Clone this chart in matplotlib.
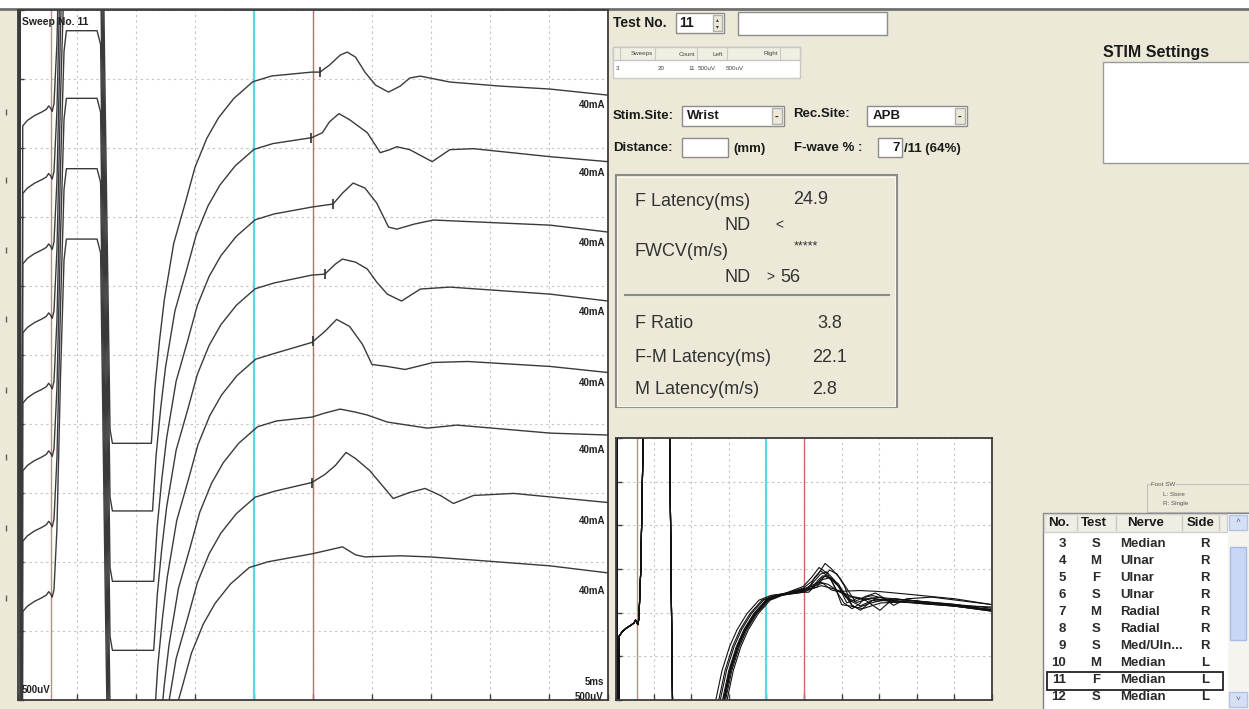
import numpy as np
import matplotlib.pyplot as plt
from matplotlib.patches import Rectangle

plt.rcParams['font.family'] = ['Liberation Sans', 'DejaVu Sans']

W, H = 1249, 709
BEIGE = '#ece9d8'

# stimulus artifact + M response + recovery, time in ms, amplitude in uV (shared by every sweep)
ART_T = [0.0, 0.12, 0.25, 0.4, 0.8, 1.4, 2.0, 2.4, 2.6, 2.75, 2.9, 3.05, 3.3, 3.6, 3.9, 4.1,
         6.7, 7.0, 7.4, 7.8, 8.0, 11.3, 11.6, 12.0, 12.4, 13.2, 14.2, 15.0, 16.0, 17.0,
         18.3, 19.9, 21.5]
ART_A = [0, 6000, -6000, -100, -60, -25, 0, 20, 45, 30, 5, 60, 500, 1600, 2450, 2600,
         2600, 2500, 0, -2300, -2400, -2400, -2000, -1650, -1360, -950, -650, -400, -190, -40,
         100, 220, 262]

# raster position of each sweep (uV) and small per-sweep recovery delay (ms)
TRACE_BASE = [4260, 3770, 3260, 2760, 2250, 1760, 1250, 740]
RECOVERY_SHIFT = [0.0, 0.1, 0.2, 0.2, 0.25, 0.4, 0.2, -0.3]

# late segment of each sweep (F-wave region)
F_T = [
    [24.9, 25.6, 26.4, 27.3, 27.9, 28.6, 29.4, 30.3, 31.4, 32.4, 33.2, 34.1, 34.9, 36.6, 40.8, 45.1, 50.0],
    [24.9, 25.8, 26.4, 27.2, 28.1, 29.6, 30.7, 31.5, 32.1, 33.2, 35.1, 36.6, 38.6, 45.1, 50.0],
    [24.9, 26.7, 27.5, 28.4, 29.4, 30.4, 31.4, 32.1, 33.6, 35.2, 39.2, 45.1, 50.0],
    [24.9, 26.0, 26.9, 27.5, 28.6, 29.6, 30.4, 31.3, 32.5, 34.1, 36.6, 45.1, 50.0],
    [24.9, 26.0, 27.0, 28.1, 29.2, 30.0, 31.3, 32.8, 35.2, 38.1, 45.1, 50.0],
    [24.9, 26.0, 27.3, 28.6, 29.6, 31.3, 34.7, 37.2, 45.1, 50.0],
    [24.9, 26.0, 26.9, 27.8, 28.6, 29.8, 31.8, 33.2, 34.5, 35.8, 36.9, 38.6, 42.0, 50.0],
    [24.9, 26.4, 27.5, 28.6, 29.4, 32.4, 34.9, 38.3, 45.1, 50.0],
]
F_A = [
    [290, 290, 341, 413, 435, 399, 290, 196, 145, 189, 247, 261, 247, 218, 189, 167, 123],
    [305, 341, 420, 479, 435, 341, 196, 218, 239, 218, 131, 218, 225, 167, 131],
    [312, 334, 413, 486, 450, 341, 167, 152, 189, 218, 203, 181, 131],
    [319, 326, 399, 435, 413, 363, 268, 181, 131, 218, 232, 181, 131],
    [341, 420, 508, 457, 326, 181, 167, 145, 196, 203, 167, 123],
    [290, 319, 348, 326, 305, 254, 210, 232, 174, 160],
    [326, 384, 450, 544, 500, 413, 210, 254, 283, 232, 174, 232, 247, 181],
    [319, 348, 370, 312, 297, 305, 297, 276, 232, 181],
]
F_MARK = [25.6, 24.8, 26.7, 26.0, 25.0, np.nan, 24.9, np.nan]

# three more sweeps that only appear in the superimposed view
EXTRA_SHIFT = [-0.9, -0.5, 0.6]
EXTRA_T = [
    [24.9, 26.0, 27.2, 28.0, 29.0, 30.5, 32.0, 34.0, 36.0, 40.0, 45.0, 50.0],
    [24.9, 26.2, 27.4, 28.5, 29.8, 31.0, 32.5, 34.5, 37.0, 42.0, 50.0],
    [24.9, 26.0, 27.0, 28.2, 29.5, 31.0, 33.0, 35.0, 38.0, 44.0, 50.0],
]
EXTRA_A = [
    [300, 360, 450, 470, 400, 250, 200, 240, 215, 200, 170, 135],
    [295, 330, 400, 420, 330, 220, 170, 230, 210, 190, 140],
    [310, 350, 380, 360, 300, 250, 230, 245, 225, 190, 150],
]

STIM_LABEL = '40mA'
M_LAT, CYAN_CUR, F_LAT = 2.8, 20.0, 25.0

# review list
ROW_NO = ['3', '4', '5', '6', '7', '8', '9', '10', '11', '12']
ROW_TEST = ['S', 'M', 'F', 'S', 'M', 'S', 'S', 'M', 'F', 'S']
ROW_NERVE = ['Median', 'Ulnar', 'Ulnar', 'Ulnar', 'Radial', 'Radial', 'Med/Uln...', 'Median', 'Median', 'Median']
ROW_SIDE = ['R', 'R', 'R', 'R', 'R', 'R', 'R', 'L', 'L', 'L']


def sweep(shift, ft, fa):
    t = np.array(ART_T, dtype=float)
    t[t > 11.0] += shift
    return np.concatenate([t, ft]), np.concatenate([ART_A, fa])


fig = plt.figure(figsize=(W / 100, H / 100), dpi=100, facecolor=BEIGE)


def px_axes(l, t, r, b, **kw):
    return fig.add_axes([l / W, 1 - b / H, (r - l) / W, (b - t) / H], **kw)


ui = px_axes(0, 0, W, H)
ui.set_xlim(0, W)
ui.set_ylim(H, 0)
ui.axis('off')


def box(x0, y0, x1, y1, fc='white', ec='#8c8c8c', lw=1.0, ax=ui):
    ax.add_patch(Rectangle((x0, y0), x1 - x0, y1 - y0, facecolor=fc, edgecolor=ec, lw=lw))


def label(x, y, s, size=9.5, weight='bold', ha='left', color='#1a1a1a', ax=ui, **kw):
    return ax.text(x, y, s, fontsize=size, fontweight=weight, ha=ha, va='center', color=color, **kw)


box(0, 0, W, 8, ec='none')
ui.plot([0, W], [8.5, 8.5], color='#707070', lw=2)


def scope_style(ax, ylo, yhi, ny):
    ax.set_facecolor('white')
    ax.set_xlim(0, 50)
    ax.set_ylim(ylo, yhi)
    ax.set_xticks(np.arange(0, 51, 5))
    ax.set_yticks(np.linspace(ylo, yhi, ny + 1))
    ax.grid(True, color='#c4c4c4', ls=(0, (2, 3)), lw=0.8)
    ax.tick_params(direction='in', length=4, width=1, color='#404040',
                   labelbottom=False, labelleft=False)
    for s in ax.spines.values():
        s.set_color('#3c3c3c')
        s.set_linewidth(1.3)
    ax.axvline(M_LAT, color='#d88080', lw=1)
    ax.axvline(CYAN_CUR, color='#5fd6e0', lw=1.6)
    ax.axvline(F_LAT, color='#c86a6a', lw=1)


# ---- raster of sweeps ----
ax = px_axes(18, 10, 608, 700)
scope_style(ax, 0, 5000, 10)
for i, base in enumerate(TRACE_BASE):
    t, a = sweep(RECOVERY_SHIFT[i], F_T[i], F_A[i])
    ax.plot(t, a + base, color='#3a3a3a', lw=1.0)
    if not np.isnan(F_MARK[i]):
        ax.plot(F_MARK[i], np.interp(F_MARK[i], t, a) + base, marker='|', ms=7,
                mew=1.2, color='#303030')
    ax.text(49.8, base + 50, STIM_LABEL, ha='right', va='center', fontsize=7,
            fontweight='bold', color='#202020')
ax.plot([-1.0] * len(TRACE_BASE), TRACE_BASE, ls='none', marker='|', ms=4,
        color='#606060', clip_on=False)
ax.text(0.007, 0.983, 'Sweep No. 11', transform=ax.transAxes, fontsize=7.5,
        fontweight='bold', va='center', color='#202020')
ax.text(0.007, 0.015, '500uV', transform=ax.transAxes, fontsize=7,
        fontweight='bold', va='center', color='#202020')
ax.text(0.993, 0.015, '5ms\n500uV', transform=ax.transAxes, fontsize=7,
        fontweight='bold', va='center', ha='right', color='#202020', linespacing=1.6)

# ---- superimposed sweeps ----
bx = px_axes(616, 438, 992, 700)
scope_style(bx, -660, 1650, 6)
for i in range(len(TRACE_BASE)):
    t, a = sweep(RECOVERY_SHIFT[i], F_T[i], F_A[i])
    bx.plot(t, a, color='#111111', lw=0.8)
for i in range(len(EXTRA_T)):
    t, a = sweep(EXTRA_SHIFT[i], EXTRA_T[i], EXTRA_A[i])
    bx.plot(t, a, color='#111111', lw=0.8)

# ---- study header form ----
label(613, 23, 'Test No.', size=10)
box(676, 13, 724, 33)
label(679, 23, '11', size=10)
box(713, 15, 722, 31, fc=BEIGE, ec='#b0b0b0')
ui.text(717.5, 19.5, '\u25b4', fontsize=4, ha='center', va='center', color='#333333',
        family='DejaVu Sans')
ui.text(717.5, 27, '\u25be', fontsize=4, ha='center', va='center', color='#333333',
        family='DejaVu Sans')
box(738, 12, 887, 35)

box(613, 47, 800, 78, ec='#c8c8c8')
box(613, 47, 800, 60, fc='#f1efe2', ec='#c8c8c8')
for xs in [620, 655, 697, 727, 780]:
    ui.plot([xs, xs], [47, 60], color='#c8c8c8', lw=0.8)
for s, x in zip(['Sweeps', 'Count', 'Left', 'Right'], [653, 695, 723, 778]):
    label(x, 54, s, size=4.5, weight='normal', ha='right', color='#444444')
for s, x in zip(['3', '20', '11', '500uV', '500uV'], [619, 665, 695, 716, 744]):
    label(x, 69, s, size=4.5, weight='normal', ha='right', color='#444444')

label(613, 116, 'Stim.Site:')
box(682, 106, 784, 126)
label(687, 116, 'Wrist')
box(772, 108, 782, 124, fc=BEIGE, ec='#b0b0b0')
label(777, 117, '-', ha='center', size=8)
label(793, 114, 'Rec.Site:')
box(867, 106, 967, 126)
label(873, 116, 'APB')
box(955, 108, 965, 124, fc=BEIGE, ec='#b0b0b0')
label(960, 117, '-', ha='center', size=8)

label(613, 148, 'Distance:')
box(682, 138, 728, 157)
label(733, 149, '(mm)')
label(794, 148, 'F-wave % :')
box(878, 138, 902, 157)
label(900, 148, '7', ha='right')
label(904, 149, '/11 (64%)')

# ---- result box ----
box(616, 175, 897, 407, fc='none', ec='#8a8a8a', lw=1.5)
box(617.5, 176.5, 895.5, 405.5, fc='none', ec='#f8f8f4', lw=0.8)
ui.plot([625, 889], [295, 295], color='#8a8a8a', lw=1.5)
res = dict(size=13, weight='normal', color='#333333')
label(635, 202, 'F Latency(ms)', **res)
label(793, 200, '24.9', **res)
label(725, 225, 'ND', **res)
label(775, 225, '<', size=10, weight='normal', color='#333333')
label(635, 252, 'FWCV(m/s)', **res)
label(794, 246, '*****', size=9, weight='normal', color='#333333')
label(725, 277, 'ND', **res)
label(766, 277, '>', size=10, weight='normal', color='#333333')
label(780, 277, '56', **res)
label(635, 323, 'F Ratio', **res)
label(817, 323, '3.8', **res)
label(635, 357, 'F-M Latency(ms)', **res)
label(812, 357, '22.1', **res)
label(635, 390, 'M Latency(m/s)', **res)
label(812, 390, '2.8', **res)

# ---- stimulator panel ----
label(1103, 52, 'STIM Settings', size=11.5)
box(1103, 62, 1252, 163, ec='#9a9a9a')

# ---- foot switch legend ----
ui.add_patch(Rectangle((1147, 484), 110, 28, facecolor='none', edgecolor='#c0c0c0', lw=0.8))
label(1151, 484, 'Foot SW', size=4.5, weight='normal', color='#555555',
      bbox=dict(fc=BEIGE, ec='none', pad=0.3))
label(1163, 494, 'L: Store', size=4.5, weight='normal', color='#555555')
label(1163, 504, 'R: Single', size=4.5, weight='normal', color='#555555')

# ---- test list ----
box(1043, 513, 1252, 712, ec='#7f7f7f')
box(1044, 514, 1227, 532, fc='#efeee4', ec='#d0d0c8')
for xs in [1077, 1116, 1182, 1219]:
    ui.plot([xs, xs], [516, 530], color='#c8c8c0', lw=1)
label(1048, 523, 'No.', size=9.5)
label(1094, 523, 'Test', size=9.5, ha='center')
label(1146, 523, 'Nerve', size=9.5, ha='center')
label(1201, 523, 'Side', size=9.5, ha='center')

tb = px_axes(1044, 533, 1227, 706)
tb.set_xlim(1044, 1227)
tb.set_ylim(706, 533)
tb.axis('off')
for k in range(len(ROW_NO)):
    y = 544 + 17.0 * k
    kw = dict(size=9.5, color='#2a2a2a', ax=tb, clip_on=True)
    label(1066, y, ROW_NO[k], ha='right', **kw)
    label(1096, y, ROW_TEST[k], ha='center', **kw)
    label(1120, y, ROW_NERVE[k], **kw)
    label(1205, y, ROW_SIDE[k], ha='center', **kw)
tb.add_patch(Rectangle((1047, 671.5), 176, 18, facecolor='none', edgecolor='#222222', lw=1.3))

# scrollbar
box(1228, 514, 1251, 709, fc='#f5f4ef', ec='none')
box(1229, 515, 1247, 530, fc='#d6e0f5', ec='#b4c4e6')
ui.text(1238, 522, '\u02c4', fontsize=6, ha='center', va='center', color='#4d6185')
box(1230, 547, 1246, 640, fc='#c8d7f6', ec='#a8bbe6')
box(1229, 692, 1247, 707, fc='#d6e0f5', ec='#b4c4e6')
ui.text(1238, 699, '\u02c5', fontsize=6, ha='center', va='center', color='#4d6185')

fig.savefig('out.png', dpi=100, facecolor=BEIGE)
